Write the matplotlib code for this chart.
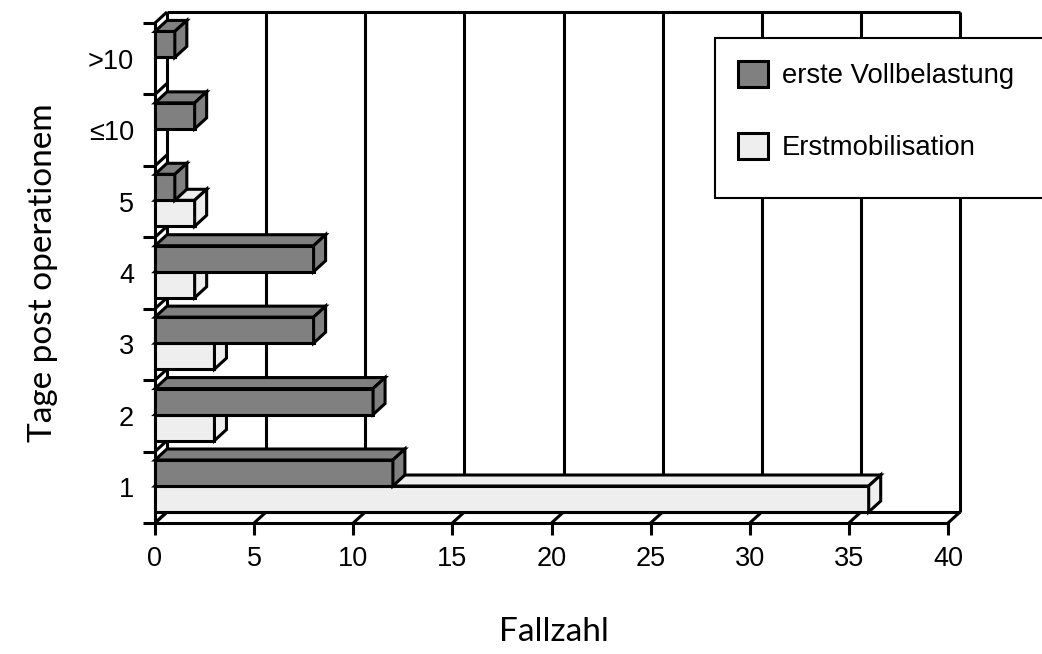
import matplotlib
matplotlib.use('Agg')
import matplotlib.pyplot as plt
from matplotlib.patches import Polygon, Patch, Rectangle

# data
categories = ['1', '2', '3', '4', '5', '≤10', '>10']
vollbelastung = [12, 11, 8, 8, 1, 2, 1]
erstmobilisation = [36, 3, 3, 2, 2, 0, 0]
x_ticks = [0, 5, 10, 15, 20, 25, 30, 35, 40]

DARK = '#808080'
LIGHT = '#eeeeee'
LW = 2.2

plt.rcParams['font.family'] = ['Liberation Sans', 'DejaVu Sans']

W, H = 1042, 654
fig = plt.figure(figsize=(W / 100, H / 100), dpi=100)
left, right, bottom, top = 155, 948, 523, 23
ax = fig.add_axes([left / W, 1 - bottom / H, (right - left) / W, (bottom - top) / H])
n = len(categories)
ax.set_xlim(0, x_ticks[-1])
ax.set_ylim(0, n)

# depth of the fake 3D box, converted from pixels to data units
dx = 12 / ((right - left) / x_ticks[-1])
dy = 11 / ((bottom - top) / n)

# back wall, floor and left wall lines
kw = dict(color='black', lw=LW, clip_on=False, zorder=1, solid_capstyle='butt')
for t in x_ticks:
    ax.plot([t + dx, t + dx], [dy, n + dy], **kw)
    ax.plot([t, t + dx], [0, dy], **kw)
ax.plot([dx, x_ticks[-1] + dx], [n + dy, n + dy], **kw)
ax.plot([dx, x_ticks[-1] + dx], [dy, dy], **kw)
for j in range(n + 1):
    ax.plot([0, dx], [j, j + dy], **kw)


def draw_box(v, y0, h, color, z):
    if v <= 0:
        return
    faces = [
        [(0, y0), (v, y0), (v, y0 + h), (0, y0 + h)],
        [(0, y0 + h), (v, y0 + h), (v + dx, y0 + h + dy), (dx, y0 + h + dy)],
        [(v, y0), (v + dx, y0 + dy), (v + dx, y0 + h + dy), (v, y0 + h)],
    ]
    for f in faces:
        ax.add_patch(Polygon(f, closed=True, facecolor=color, edgecolor='black',
                             lw=LW, joinstyle='miter', clip_on=False, zorder=z))


bar_h = 0.364
gap = 0.154
z = 3
for i in range(n):
    draw_box(erstmobilisation[i], i + gap, bar_h, LIGHT, z)
    draw_box(vollbelastung[i], i + gap + bar_h, bar_h, DARK, z + 1)
    z += 2

# axes styling
for s in ['top', 'right']:
    ax.spines[s].set_visible(False)
for s in ['left', 'bottom']:
    ax.spines[s].set_linewidth(LW)

ax.set_xticks(x_ticks)
ax.tick_params(axis='x', direction='out', length=8.6, width=LW, labelsize=19.5, pad=8)
ax.set_yticks(range(n + 1))
ax.set_yticklabels([])
ax.set_yticks([i + 0.5 for i in range(n)], minor=True)
ax.set_yticklabels(categories, minor=True)
ax.tick_params(axis='y', which='major', direction='out', length=8.6, width=LW)
ax.tick_params(axis='y', which='minor', length=0, labelsize=19.5, pad=15)

ax.set_xlabel('Fallzahl', family=['Lato', 'DejaVu Sans'], fontsize=24)
ax.xaxis.set_label_coords(0.503, -0.188)
ax.set_ylabel('Tage post operationem', family=['Lato', 'DejaVu Sans'], fontsize=24)
ax.yaxis.set_label_coords(-0.122, 0.5)

# legend frame drawn separately: the reference box is taller below the entries
fig.patches.append(Rectangle((715 / W, 1 - 198 / H), 335 / W, 160 / H,
                             transform=fig.transFigure, facecolor='white',
                             edgecolor='black', lw=1.5, zorder=4))
handles = [Patch(facecolor=DARK, edgecolor='black', lw=LW),
           Patch(facecolor=LIGHT, edgecolor='black', lw=LW)]
leg = fig.legend(handles, ['erste Vollbelastung', 'Erstmobilisation'], loc='upper left',
                 bbox_to_anchor=(715 / W, 1 - 38 / H), frameon=False,
                 fontsize=19.8, handlelength=1.07, handleheight=1.04,
                 handletextpad=0.5, labelspacing=1.6, borderpad=0.85, borderaxespad=0)
leg.set_zorder(5)

fig.savefig('out.png', dpi=100)
